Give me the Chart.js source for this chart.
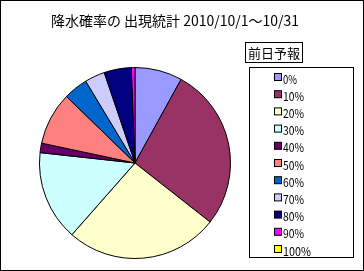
<!DOCTYPE html>
<html>
<head>
<meta charset="utf-8">
<script src="https://cdn.jsdelivr.net/npm/chart.js@4"></script>
<style>
html, body { margin: 0; padding: 0; background: #fff; }
#wrap { width: 364px; height: 271px; }
</style>
</head>
<body>
<div id="wrap"><canvas id="pie" width="364" height="271"></canvas></div>
<script>
const titleText = '降水確率の 出現統計 2010/10/1～10/31';
const seriesName = '前日予報';
const categories = ['0%', '10%', '20%', '30%', '40%', '50%', '60%', '70%', '80%', '90%', '100%'];
const counts = [8.0, 27.5, 25.8, 15.2, 1.6, 8.9, 4.1, 3.4, 4.6, 0.6, 0];
const sliceColors = ['#9999FF', '#993366', '#FFFFCC', '#CCFFFF', '#660066', '#FF8080',
    '#0066CC', '#CCCCFF', '#000080', '#FF00FF', '#FFFF00'];

const jpFont = '"Noto Sans CJK JP", "Noto Sans", sans-serif';

// title, frames and the legend are drawn by hand
const decor = {
    id: 'decor',
    afterDraw(chart) {
        const ctx = chart.ctx;
        ctx.save();
        ctx.strokeStyle = '#000';
        ctx.lineWidth = 1;
        ctx.strokeRect(0.5, 0.5, chart.width - 1, chart.height - 1);

        ctx.fillStyle = '#000';
        ctx.textBaseline = 'middle';
        ctx.textAlign = 'center';
        ctx.font = '14px ' + jpFont;
        ctx.fillText(titleText, 175, 21, 260);

        // series name box
        ctx.strokeRect(245.5, 42.5, 57, 20);
        ctx.font = '13px ' + jpFont;
        ctx.fillText(seriesName, 274, 53, 52);

        // legend
        ctx.strokeRect(249.5, 67.5, 104, 190);
        ctx.textAlign = 'left';
        ctx.font = '12px ' + jpFont;
        const meta = chart.getDatasetMeta(0);
        categories.forEach((c, i) => {
            const y = 78 + i * 17.2;
            ctx.fillStyle = meta.controller.getStyle(i).backgroundColor;
            ctx.fillRect(274.5, y - 4.5, 7, 7);
            ctx.strokeRect(274.5, y - 4.5, 7, 7);
            ctx.fillStyle = '#000';
            ctx.fillText(c, 283, y + 1, c.length * 7);
        });
        ctx.restore();
    }
};

new Chart(document.getElementById('pie'), {
    type: 'pie',
    data: {
        labels: categories,
        datasets: [{
            label: seriesName,
            data: counts,
            backgroundColor: sliceColors,
            borderColor: '#000',
            borderWidth: 1
        }]
    },
    options: {
        responsive: false,
        animation: false,
        layout: { padding: { left: 39, top: 67, right: 133, bottom: 12 } },
        plugins: {
            legend: { display: false },
            title: { display: false },
            tooltip: { enabled: false }
        }
    },
    plugins: [decor]
});
</script>
</body>
</html>
